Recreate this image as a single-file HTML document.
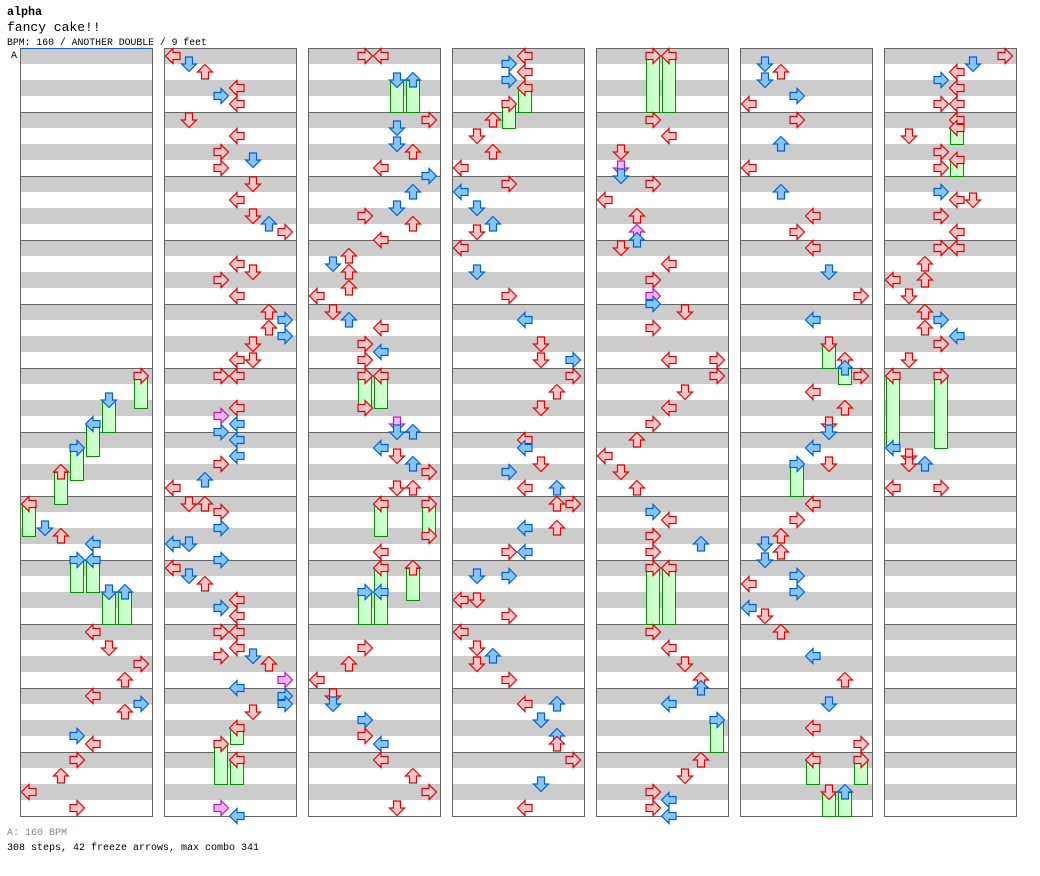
<!DOCTYPE html>
<html><head><meta charset="utf-8">
<style>
body{margin:0;background:#fff;width:1040px;height:876px;overflow:hidden;font-family:"Liberation Mono","DejaVu Sans Mono",monospace;}
svg{position:absolute;left:0;top:0}
</style></head><body>
<svg id="s" width="1040" height="876" xmlns="http://www.w3.org/2000/svg">
<text x="7" y="15" font-family="Liberation Mono,monospace" font-weight="bold" font-size="11.7">alpha</text>
<text x="7" y="31" font-family="Liberation Mono,monospace" font-size="13">fancy cake!!</text>
<text x="7" y="45" font-family="Liberation Mono,monospace" font-size="9.8">BPM: 160 / ANOTHER DOUBLE / 9 feet</text>
<text x="11" y="58" font-family="Liberation Mono,monospace" font-size="10">A</text>
<text x="7" y="835" font-family="Liberation Mono,monospace" font-size="10" fill="#888">A: 160 BPM</text>
<text x="7" y="850" font-family="Liberation Mono,monospace" font-size="10">308 steps, 42 freeze arrows, max combo 341</text>
<g id="g"></g>
</svg>
<script>
var g=document.getElementById('g'),h='';
for(var c=0;c<7;c++){var x=20+144*c;
 for(var m=0;m<12;m++){var y=48+64*m;h+='<rect x="'+x+'" y="'+y+'" width="132" height="16" fill="#ccc"/><rect x="'+x+'" y="'+(y+32)+'" width="132" height="16" fill="#ccc"/>';
 if(m>0)h+='<line x1="'+x+'" y1="'+(y+.5)+'" x2="'+(x+132)+'" y2="'+(y+.5)+'" stroke="#666"/>';}
 h+='<rect x="'+(x+.5)+'" y="48.5" width="132" height="768" fill="none" stroke="#666"/>';}
h+='<line x1="20" y1="48.5" x2="152" y2="48.5" stroke="#1060d0"/>';
var col={r:['#ffc8c8','#e00000'],b:['#88c4ff','#0060d0'],p:['#ffb0ff','#b020b0']};
var rot=[-90,180,0,90];
function arrow(x,y,l,k){var C=col[k];return '<g transform="translate('+(x+8)+','+(y+8)+') rotate('+rot[l%4]+')"><polygon points="0,-7.5 7.5,0 3.5,0 3.5,7 -3.5,7 -3.5,0 -7.5,0" fill="'+C[0]+'" stroke="'+C[1]+'" stroke-width="1.2"/></g>';}
function fr(x,y1,y2,l,k){return '<rect x="'+(x+1.5)+'" y="'+(y1+8.5)+'" width="13" height="'+(y2-y1)+'" fill="#ccffcc" stroke="#009000"/>'+arrow(x,y1,l,k);}
var D=[
"f368,400,7,r f392,424,5,b f416,448,4,b f440,472,3,b f464,496,2,r f496,528,0,r 520,1,b 528,2,r 536,4,b f552,584,3,b f552,584,4,b f584,616,5,b f584,616,6,b 624,4,r 640,5,r 656,7,r 672,6,r 688,4,r 696,7,b 704,6,r 728,3,b 736,4,r 752,3,r 768,2,r 784,0,r 800,3,r",
"48,0,r 56,1,b 64,2,r 80,4,r 88,3,b 96,4,r 112,1,r 128,4,r 144,3,r 152,5,b 160,3,r 176,5,r 192,4,r 208,5,r 216,6,b 224,7,r 256,4,r 264,5,r 272,3,r 288,4,r 304,6,r 312,7,b 320,6,r 328,7,b 336,5,r 352,4,r 352,5,r 368,3,r 368,4,r 400,4,r 408,3,p 416,4,b 424,3,b 432,4,b 448,4,b 456,3,r 472,2,b 480,0,r 496,1,r 496,2,r 504,3,r 520,3,b 536,0,b 536,1,b 552,3,b 560,0,r 568,1,b 576,2,r 592,4,r 600,3,b 608,4,r 624,3,r 624,4,r 640,4,r 648,3,r 648,5,b 656,6,r 672,7,p 680,4,b 688,7,b 696,7,b 704,5,r f720,736,4,r f736,776,3,r f752,776,4,r 800,3,p 808,4,b",
"48,3,r 48,4,r f72,104,5,b f72,104,6,b 112,7,r 120,5,b 136,5,b 144,6,r 160,4,r 168,7,b 184,6,b 200,5,b 208,3,r 216,6,r 232,4,r 248,2,r 256,1,b 264,2,r 280,2,r 288,0,r 304,1,r 312,2,b 320,4,r 336,3,r 344,4,b 352,3,r f368,400,3,r f368,400,4,r 400,3,r 416,5,p 424,5,b 424,6,b 440,4,b 448,5,r 456,6,b 464,7,r 480,5,r 480,6,r f496,528,4,r f496,528,7,r 528,7,r 544,4,r f560,592,4,r f560,592,6,r f584,616,3,b f584,616,4,b 640,3,r 656,2,r 672,0,r 688,1,r 696,1,b 712,3,b 728,3,r 736,4,b 752,4,r 768,6,r 784,7,r 800,5,r",
"48,4,r 56,3,b 64,4,r 72,3,b f80,104,4,r f96,120,3,r 112,2,r 128,1,r 144,2,r 160,0,r 176,3,r 184,0,b 200,1,b 216,2,b 224,1,r 240,0,r 264,1,b 288,3,r 312,4,b 336,5,r 352,7,b 352,5,r 368,7,r 384,6,r 400,5,r 432,4,r 440,4,b 456,5,r 464,3,b 480,6,b 480,4,r 496,6,r 496,7,r 520,4,b 520,6,r 544,3,r 544,4,b 568,1,b 568,3,b 592,0,r 592,1,r 608,3,r 624,0,r 640,1,r 648,2,b 656,1,r 672,3,r 696,4,r 696,6,b 712,5,b 728,6,b 736,6,r 752,7,r 776,5,b 800,4,r",
"f48,104,3,r f48,104,4,r 112,3,r 128,4,r 144,1,r 160,1,p 168,1,b 176,3,r 192,0,r 208,2,r 224,2,p 232,2,b 240,1,r 256,4,r 272,3,r 288,3,p 296,3,b 304,5,r 320,3,r 352,4,r 352,7,r 368,7,r 384,5,r 400,4,r 416,3,r 432,2,r 448,0,r 464,1,r 480,2,r 504,3,b 512,4,r 528,3,r 536,6,b 544,3,r f560,616,3,r f560,616,4,r 624,3,r 640,4,r 656,5,r 672,6,r 680,6,b 696,4,b f712,744,7,b 752,6,r 768,5,r 784,3,r 792,4,b 800,3,r 808,4,b",
"56,1,b 64,2,r 72,1,b 88,3,b 96,0,r 112,3,r 136,2,b 160,0,r 184,2,b 208,4,r 224,3,r 240,4,r 264,5,b 288,7,r 312,4,b f336,360,5,r 352,6,r f360,376,6,b 368,7,r 384,4,r 400,6,r 416,5,r 424,5,b 440,4,b f456,488,3,b 456,5,r 496,4,r 512,3,r 528,2,r 536,1,b 544,2,r 552,1,b 568,3,b 576,0,r 584,3,b 600,0,b 608,1,r 624,2,r 648,4,b 672,6,r 696,5,b 720,4,r 736,7,r f752,776,4,r f752,776,7,r f784,808,5,r f784,808,6,b",
"48,7,r 56,5,b 64,4,r 72,3,b 80,4,r 96,3,r 96,4,r 112,4,r f120,136,4,r 128,1,r 144,3,r f152,168,4,r 160,3,r 184,3,b 192,4,r 192,5,r 208,3,r 224,4,r 240,3,r 240,4,r 256,2,r 272,0,r 272,2,r 288,1,r 304,2,r 312,3,b 320,2,r 328,4,b 336,3,r 352,1,r f368,440,0,r f368,440,3,r 440,0,b 448,1,r 456,1,r 456,2,b 480,0,r 480,3,r"];
for(var c=0;c<7;c++){var bx=21+144*c;D[c].split(' ').forEach(function(t){
 if(t[0]=='f'){var a=t.slice(1).split(',');h+=fr(bx+16*(+a[2]),+a[0],+a[1],+a[2],a[3]);}
 else{var a=t.split(',');h+=arrow(bx+16*(+a[1]),+a[0],+a[1],a[2]);}});}
g.innerHTML=h;
</script>
</body></html>
